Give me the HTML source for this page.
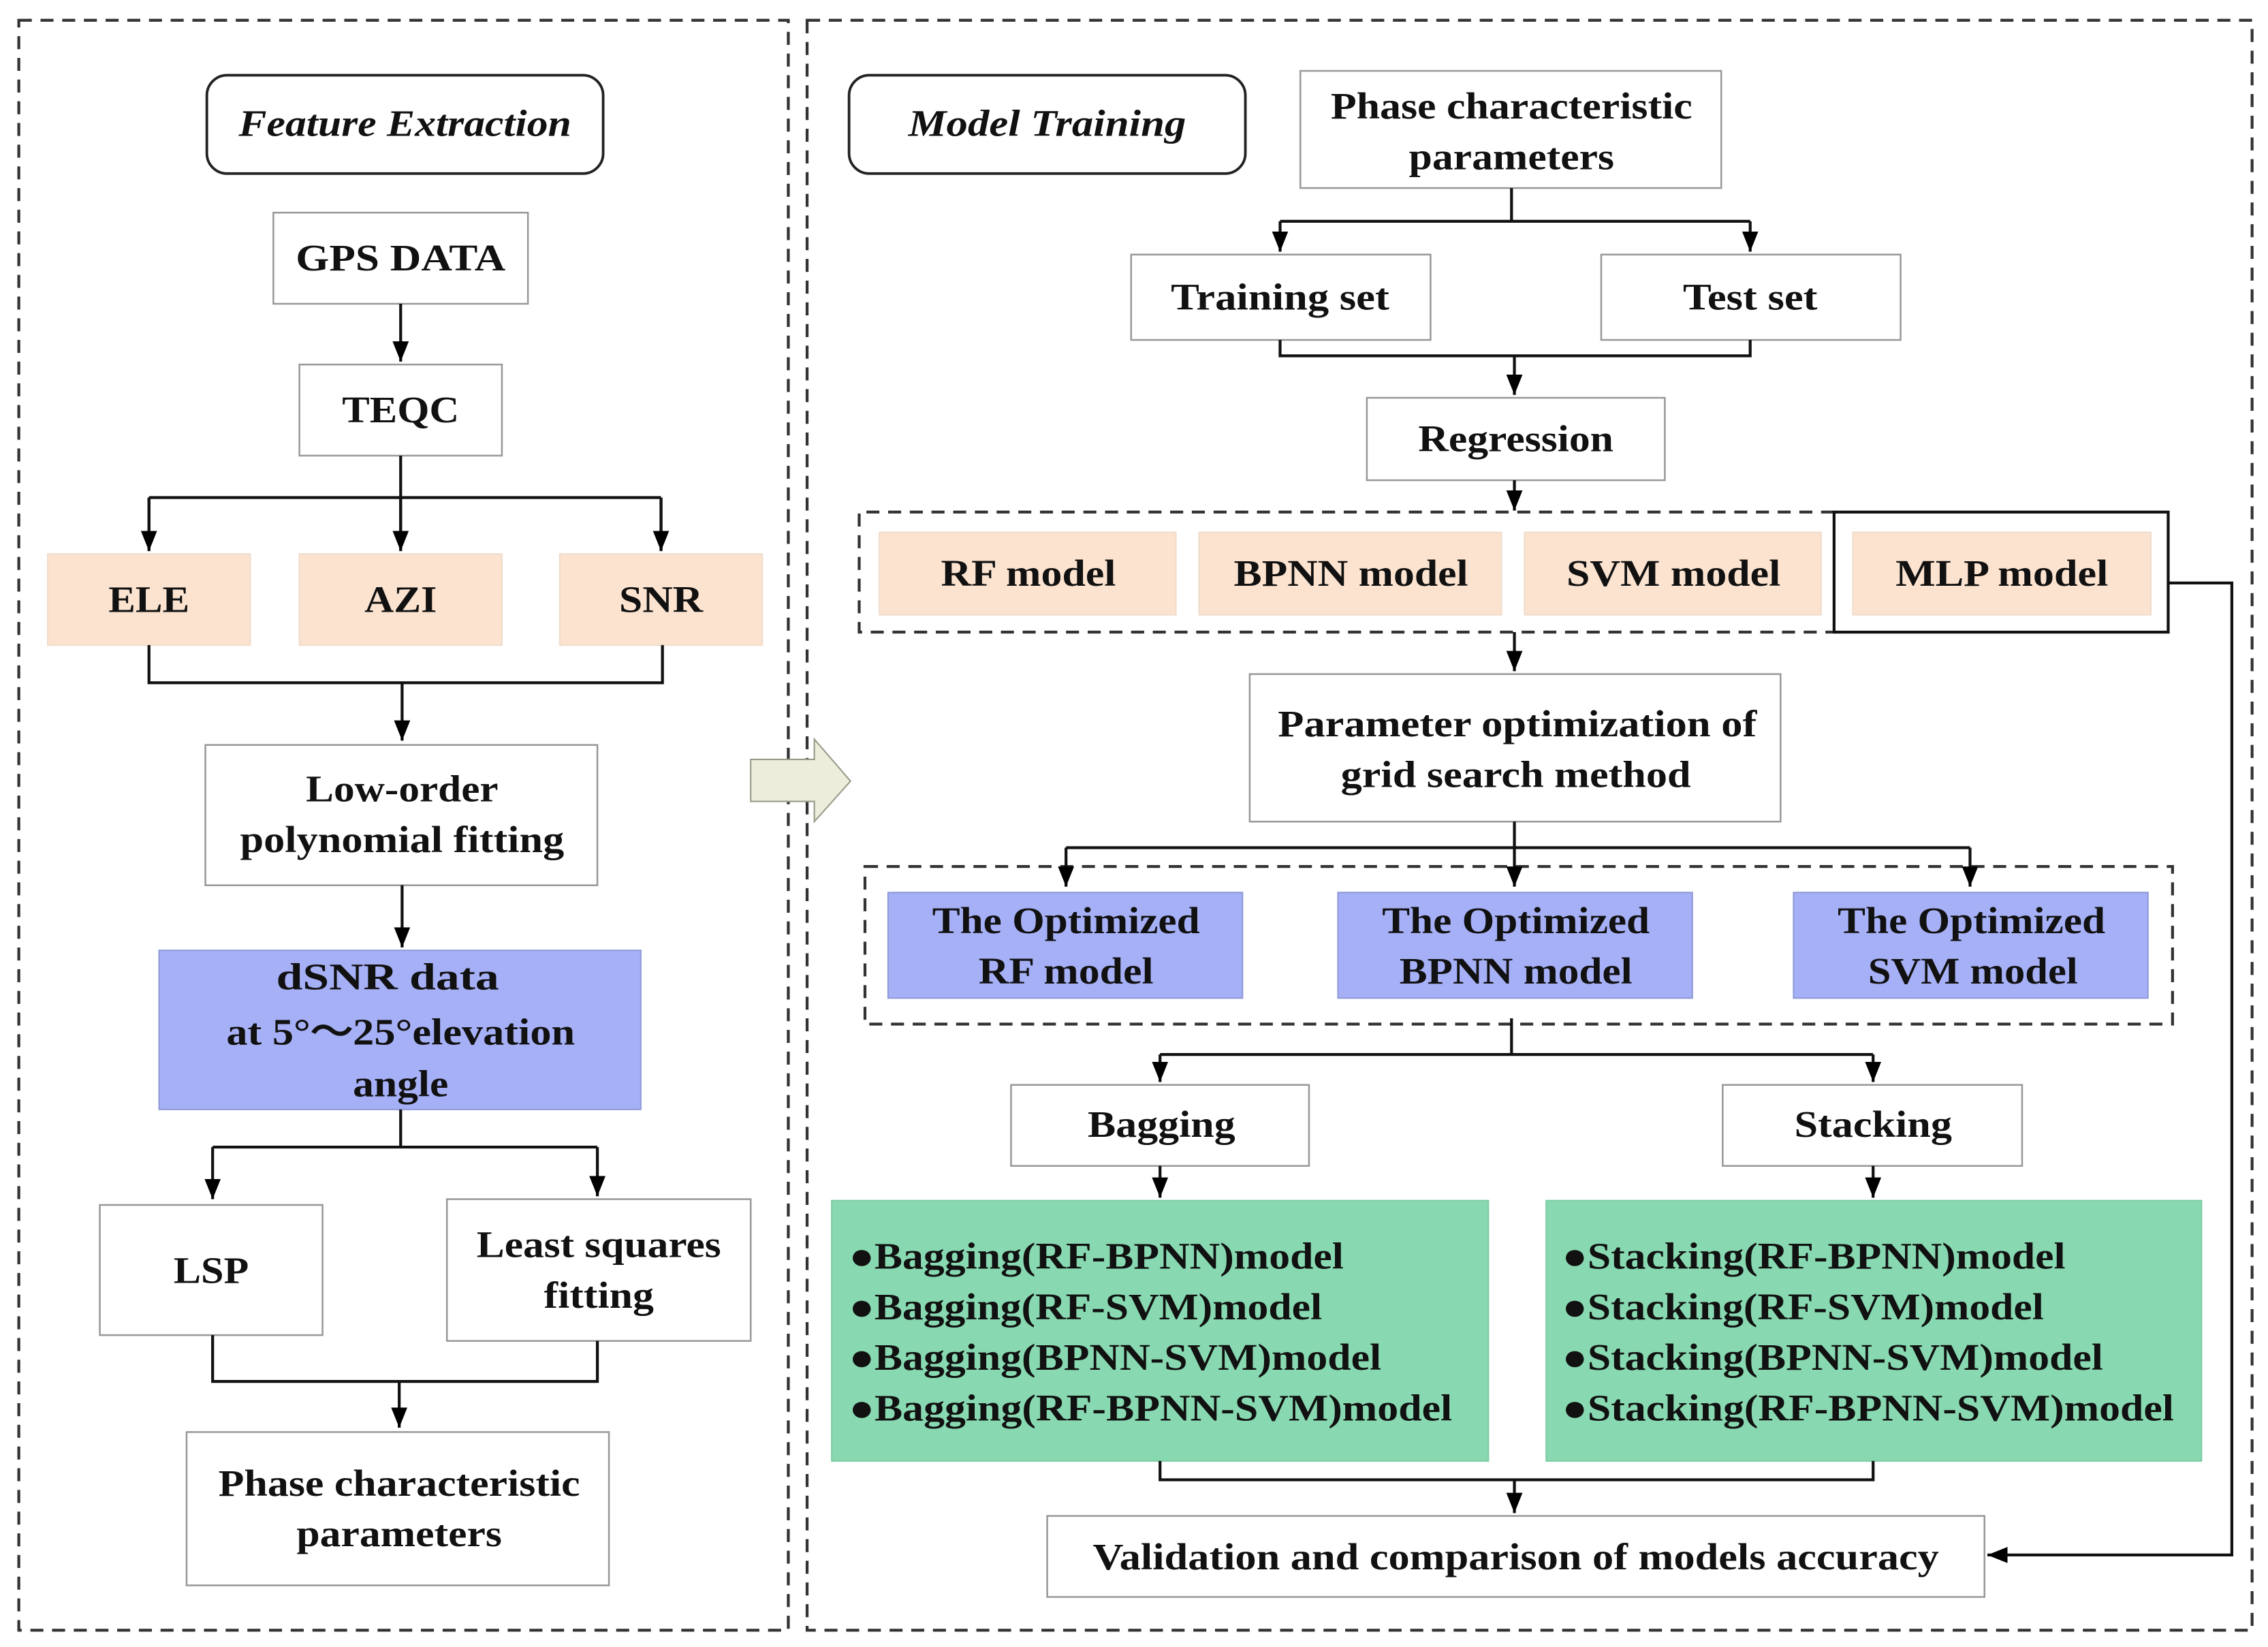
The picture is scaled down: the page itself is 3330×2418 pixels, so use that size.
<!DOCTYPE html>
<html><head><meta charset="utf-8"><style>html,body{margin:0;padding:0;background:#fff}svg{display:block}</style></head>
<body>
<svg xmlns="http://www.w3.org/2000/svg" width="3330" height="2418" viewBox="0 0 1568 1138.6" preserveAspectRatio="none">
<defs>
<marker id="a" viewBox="0 0 10 10" refX="10" refY="5" markerWidth="6" markerHeight="6" orient="auto" markerUnits="userSpaceOnUse"><path d="M0,0 L10,5 L0,10 z" fill="#000"/></marker>
<marker id="b" viewBox="0 0 10 10" refX="10" refY="5" markerWidth="14" markerHeight="14" orient="auto" markerUnits="userSpaceOnUse"><path d="M0,1 L10,5 L0,9 z" fill="#000"/></marker>
</defs>
<style>
text{font-family:"Liberation Serif",serif;font-weight:bold;font-size:26px;fill:#111;text-anchor:middle}
.w{fill:#fff;stroke:#999;stroke-width:1.2}
.pe{fill:#fbe3d0;stroke:#f0dccb;stroke-width:1}
.bl{fill:#a6b0f6;stroke:#8f9ad8;stroke-width:1}
.gr{fill:#88d9b1;stroke:#7ccca4;stroke-width:1}
.l{fill:none;stroke:#111;stroke-width:2}
.dl{fill:none;stroke:#333;stroke-width:2;stroke-dasharray:9,6}
.lt{text-anchor:start}
</style>
<rect x="13" y="14" width="532" height="1113" fill="#dde9f6" class="dl"/>
<rect x="558" y="14" width="999" height="1113" fill="#d6e1ef" class="dl"/>

<!-- Left -->
<rect x="143" y="52" width="274" height="68" rx="14" fill="none" stroke="#222" stroke-width="1.8"/>
<text x="280" y="94" font-style="italic" textLength="230" lengthAdjust="spacingAndGlyphs">Feature Extraction</text>
<rect class="w" x="189" y="147" width="176" height="63"/><text x="277" y="187" textLength="145" lengthAdjust="spacingAndGlyphs">GPS DATA</text>
<rect class="w" x="207" y="252" width="140" height="63"/><text x="277" y="292" textLength="81" lengthAdjust="spacingAndGlyphs">TEQC</text>
<path class="l" d="M277,210 V250" marker-end="url(#b)"/>
<path class="l" d="M277,315 V380 M103,344 H457 M103,344 V380 M457,344 V380" />
<path class="l" d="M103,344 V381" marker-end="url(#b)"/><path class="l" d="M277,344 V381" marker-end="url(#b)"/><path class="l" d="M457,344 V381" marker-end="url(#b)"/>
<rect class="pe" x="33" y="383" width="140" height="63"/><text x="103" y="423" textLength="56" lengthAdjust="spacingAndGlyphs">ELE</text>
<rect class="pe" x="207" y="383" width="140" height="63"/><text x="277" y="423" textLength="50" lengthAdjust="spacingAndGlyphs">AZI</text>
<rect class="pe" x="387" y="383" width="140" height="63"/><text x="457" y="423" textLength="58" lengthAdjust="spacingAndGlyphs">SNR</text>
<path class="l" d="M103,446 V472 H458 V446 M278,472 V512" marker-end="url(#b)"/>
<rect class="w" x="142" y="515" width="271" height="97"/>
<text x="278" y="554" textLength="133" lengthAdjust="spacingAndGlyphs">Low-order</text>
<text x="278" y="589" textLength="224" lengthAdjust="spacingAndGlyphs">polynomial fitting</text>
<path class="l" d="M278,612 V655" marker-end="url(#b)"/>
<rect class="bl" x="110" y="657" width="333" height="110"/>
<text x="268" y="684" textLength="154" lengthAdjust="spacingAndGlyphs">dSNR data</text>
<text x="277" y="722" textLength="241" lengthAdjust="spacingAndGlyphs">at 5°～25°elevation</text>
<text x="277" y="758" textLength="66" lengthAdjust="spacingAndGlyphs">angle</text>
<path class="l" d="M277,767 V793 H413 M277,793 H147"/>
<path class="l" d="M147,793 V829" marker-end="url(#b)"/><path class="l" d="M413,793 V827" marker-end="url(#b)"/>
<rect class="w" x="69" y="833" width="154" height="90"/><text x="146" y="887" textLength="52" lengthAdjust="spacingAndGlyphs">LSP</text>
<rect class="w" x="309" y="829" width="210" height="98"/>
<text x="414" y="869" textLength="169" lengthAdjust="spacingAndGlyphs">Least squares</text>
<text x="414" y="904" textLength="76" lengthAdjust="spacingAndGlyphs">fitting</text>
<path class="l" d="M147,923 V955 H413 V927 M276,955 V987" marker-end="url(#b)"/>
<rect class="w" x="129" y="990" width="292" height="106"/>
<text x="276" y="1034" textLength="250" lengthAdjust="spacingAndGlyphs">Phase characteristic</text>
<text x="276" y="1069" textLength="142" lengthAdjust="spacingAndGlyphs">parameters</text>

<!-- big arrow -->
<path d="M519,525 H563 V511 L588,540 L563,568 V554 H519 Z" fill="#eceedb" stroke="#9a9a8a" stroke-width="1"/>

<!-- Right -->
<rect x="587" y="52" width="274" height="68" rx="14" fill="none" stroke="#222" stroke-width="1.8"/>
<text x="724" y="94" font-style="italic" textLength="192" lengthAdjust="spacingAndGlyphs">Model Training</text>
<rect class="w" x="899" y="49" width="291" height="81"/>
<text x="1045" y="82" textLength="250" lengthAdjust="spacingAndGlyphs">Phase characteristic</text>
<text x="1045" y="117" textLength="142" lengthAdjust="spacingAndGlyphs">parameters</text>
<path class="l" d="M1045,130 V153 H1210 M1045,153 H885"/>
<path class="l" d="M885,153 V174" marker-end="url(#b)"/><path class="l" d="M1210,153 V174" marker-end="url(#b)"/>
<rect class="w" x="782" y="176" width="207" height="59"/><text x="885" y="214" textLength="151" lengthAdjust="spacingAndGlyphs">Training set</text>
<rect class="w" x="1107" y="176" width="207" height="59"/><text x="1210" y="214" textLength="93" lengthAdjust="spacingAndGlyphs">Test set</text>
<path class="l" d="M885,235 V246 H1210 V235 M1047,246 V273" marker-end="url(#b)"/>
<rect class="w" x="945" y="275" width="206" height="57"/><text x="1048" y="312" textLength="135" lengthAdjust="spacingAndGlyphs">Regression</text>
<path class="l" d="M1047,332 V353" marker-end="url(#b)"/>
<path class="dl" d="M1268,354 H594 V437 H1268"/>
<rect x="1268" y="354" width="231" height="83" fill="none" stroke="#111" stroke-width="2"/>
<rect class="pe" x="608" y="368" width="205" height="57"/><text x="711" y="405" textLength="121" lengthAdjust="spacingAndGlyphs">RF model</text>
<rect class="pe" x="829" y="368" width="209" height="57"/><text x="934" y="405" textLength="162" lengthAdjust="spacingAndGlyphs">BPNN model</text>
<rect class="pe" x="1054" y="368" width="205" height="57"/><text x="1157" y="405" textLength="148" lengthAdjust="spacingAndGlyphs">SVM model</text>
<rect class="pe" x="1281" y="368" width="206" height="57"/><text x="1384" y="405" textLength="147" lengthAdjust="spacingAndGlyphs">MLP model</text>
<path class="l" d="M1499,403 H1543 V1075 H1374" marker-end="url(#b)"/>
<path class="l" d="M1047,437 V464" marker-end="url(#b)"/>
<rect class="w" x="864" y="466" width="367" height="102"/>
<text x="1049" y="509" textLength="331" lengthAdjust="spacingAndGlyphs">Parameter optimization of</text>
<text x="1048" y="544" textLength="242" lengthAdjust="spacingAndGlyphs">grid search method</text>
<path class="l" d="M1047,568 V586 H1362 M1047,586 H737"/>
<path class="dl" d="M598,599 H1502 V708 H598 Z"/>
<path class="l" d="M737,586 V613" marker-end="url(#b)"/><path class="l" d="M1047,586 V613" marker-end="url(#b)"/><path class="l" d="M1362,586 V613" marker-end="url(#b)"/>
<rect class="bl" x="614" y="617" width="245" height="73"/>
<text x="737" y="645" textLength="185" lengthAdjust="spacingAndGlyphs">The Optimized</text><text x="737" y="680" textLength="121" lengthAdjust="spacingAndGlyphs">RF model</text>
<rect class="bl" x="925" y="617" width="245" height="73"/>
<text x="1048" y="645" textLength="185" lengthAdjust="spacingAndGlyphs">The Optimized</text><text x="1048" y="680" textLength="161" lengthAdjust="spacingAndGlyphs">BPNN model</text>
<rect class="bl" x="1240" y="617" width="245" height="73"/>
<text x="1363" y="645" textLength="185" lengthAdjust="spacingAndGlyphs">The Optimized</text><text x="1364" y="680" textLength="145" lengthAdjust="spacingAndGlyphs">SVM model</text>
<path class="l" d="M1045,704 V729 H1295 M1045,729 H802"/>
<path class="l" d="M802,729 V748" marker-end="url(#b)"/><path class="l" d="M1295,729 V748" marker-end="url(#b)"/>
<rect class="w" x="699" y="750" width="206" height="56"/><text x="803" y="786" textLength="102" lengthAdjust="spacingAndGlyphs">Bagging</text>
<rect class="w" x="1191" y="750" width="207" height="56"/><text x="1295" y="786" textLength="109" lengthAdjust="spacingAndGlyphs">Stacking</text>
<path class="l" d="M802,806 V828" marker-end="url(#b)"/><path class="l" d="M1295,806 V828" marker-end="url(#b)"/>
<rect class="gr" x="575" y="830" width="454" height="180"/>
<rect class="gr" x="1069" y="830" width="453" height="180"/>
<text class="lt" x="587" y="877" textLength="342" lengthAdjust="spacingAndGlyphs">●Bagging(RF-BPNN)model</text>
<text class="lt" x="587" y="912" textLength="327" lengthAdjust="spacingAndGlyphs">●Bagging(RF-SVM)model</text>
<text class="lt" x="587" y="947" textLength="368" lengthAdjust="spacingAndGlyphs">●Bagging(BPNN-SVM)model</text>
<text class="lt" x="587" y="982" textLength="417" lengthAdjust="spacingAndGlyphs">●Bagging(RF-BPNN-SVM)model</text>
<text class="lt" x="1080" y="877" textLength="348" lengthAdjust="spacingAndGlyphs">●Stacking(RF-BPNN)model</text>
<text class="lt" x="1080" y="912" textLength="333" lengthAdjust="spacingAndGlyphs">●Stacking(RF-SVM)model</text>
<text class="lt" x="1080" y="947" textLength="374" lengthAdjust="spacingAndGlyphs">●Stacking(BPNN-SVM)model</text>
<text class="lt" x="1080" y="982" textLength="423" lengthAdjust="spacingAndGlyphs">●Stacking(RF-BPNN-SVM)model</text>
<path class="l" d="M802,1010 V1023 H1295 V1010 M1047,1023 V1046" marker-end="url(#b)"/>
<rect class="w" x="724" y="1048" width="648" height="56"/>
<text x="1048" y="1085" textLength="585" lengthAdjust="spacingAndGlyphs">Validation and comparison of models accuracy</text>
</svg>
</body></html>
